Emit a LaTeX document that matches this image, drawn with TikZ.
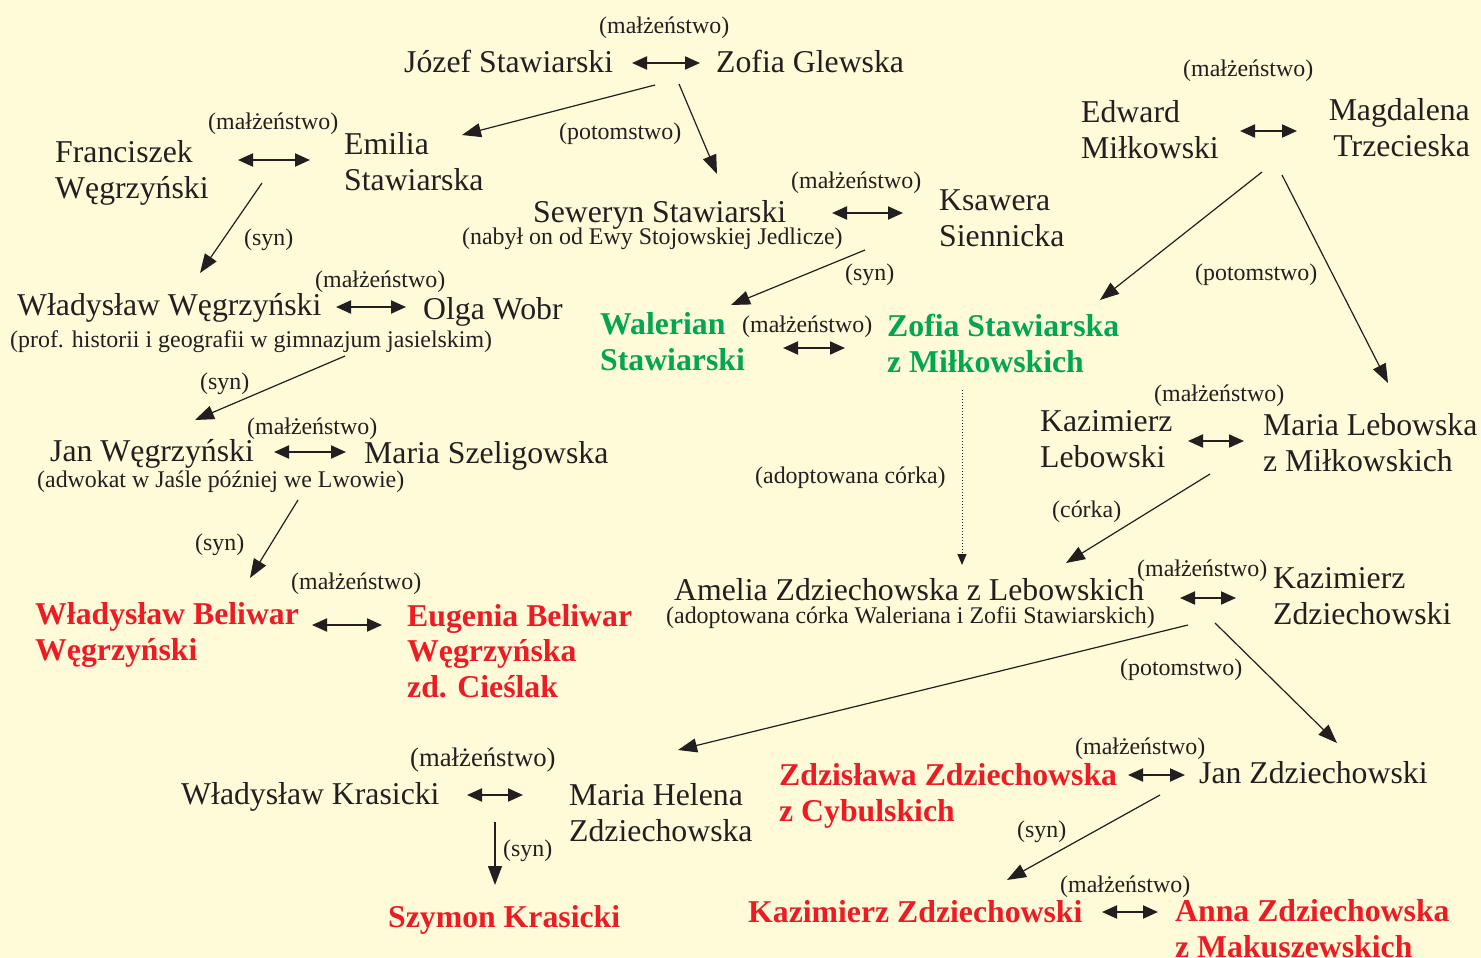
\documentclass[tikz,border=0pt]{standalone}
\usepackage{fontspec}
\setmainfont{Liberation Serif}
\usetikzlibrary{arrows.meta}
\definecolor{tlo}{HTML}{FFFAD7}
\definecolor{tekst}{HTML}{231F20}
\definecolor{czerwony}{HTML}{ED1C24}
\definecolor{zielony}{HTML}{00A651}

\begin{document}
\begin{tikzpicture}
  [x=1pt,y=-1pt,
   every node/.style={inner sep=0pt,anchor=base west,align=left,text=tekst,
     font=\fontsize{31.75}{35.5}\selectfont},
   opis/.style={font=\fontsize{23.9}{26}\selectfont},
   czerw/.style={text=czerwony,font=\fontsize{31.75}{35.5}\selectfont\bfseries},
   ziel/.style={text=zielony,font=\fontsize{31.75}{35.5}\selectfont\bfseries},
   slub/.style={{Triangle[length=15pt,width=13pt]}-{Triangle[length=15pt,width=13pt]},
     line width=2pt,draw=tekst},
   rod/.style={-{Triangle[length=19pt,width=14pt]},line width=1.2pt,draw=tekst},
   adop/.style={-{Triangle[length=11pt,width=9pt]},line width=1pt,dotted,draw=tekst}]
  \fill[tlo] (0,0) rectangle (1481,958);
  \useasboundingbox (0,0) rectangle (1481,958);
  % Stawiarscy (wieloliniowe: wsp. = linia bazowa ostatniego wiersza)
  \node[opis] (m1) at (599,34) {(małżeństwo)};
  \node (jozef) at (404,73) {Józef Stawiarski};
  \node (zofiag) at (716,73) {Zofia Glewska};
  \node[opis] (p1) at (559,139) {(potomstwo)};
  \node[opis] (m2) at (208,129) {(małżeństwo)};
  \node (franc) at (55,198) {Franciszek\\Węgrzyński};
  \node (emilia) at (344,190) {Emilia\\Stawiarska};
  \node[opis] (s1) at (244,245) {(syn)};
  \node[opis] (m3) at (315,287) {(małżeństwo)};
  \node (wladw) at (17,315) {Władysław Węgrzyński};
  \node (olga) at (423,319) {Olga Wobr};
  \node[opis] (prof) at (10,347) {(prof. historii i geografii w gimnazjum jasielskim)};
  \node[opis] (s2) at (200,389) {(syn)};
  \node[opis] (m4) at (247,434) {(małżeństwo)};
  \node (jan) at (50,461) {Jan Węgrzyński};
  \node (marias) at (364,463) {Maria Szeligowska};
  \node[opis] (adw) at (37,487) {(adwokat w Jaśle później we Lwowie)};
  \node[opis] (s3) at (195,550) {(syn)};
  \node[opis] (m5) at (291,589) {(małżeństwo)};
  \node[czerw] (wladb) at (35,660) {Władysław Beliwar\\Węgrzyński};
  \node[czerw] (eugenia) at (407,697) {Eugenia Beliwar\\Węgrzyńska\\zd. Cieślak};
  \node[opis] (m6) at (791,188) {(małżeństwo)};
  \node (seweryn) at (533,222) {Seweryn Stawiarski};
  \node[opis] (nabyl) at (462,244) {(nabył on od Ewy Stojowskiej Jedlicze)};
  \node (ksawera) at (939,246) {Ksawera\\Siennicka};
  \node[opis] (s4) at (845,280) {(syn)};
  \node[ziel] (walerian) at (600,370) {Walerian\\Stawiarski};
  \node[opis] (m7) at (742,332) {(małżeństwo)};
  \node[ziel] (zofias) at (887,372) {Zofia Stawiarska\\z Miłkowskich};
  % Miłkowscy
  \node[opis] (m8) at (1183,77) {(małżeństwo)};
  \node (edward) at (1081,158) {Edward\\Miłkowski};
  \node[align=right,anchor=base east] (magda) at (1470,156) {Magdalena\\Trzecieska};
  \node[opis] (p2) at (1195,280) {(potomstwo)};
  \node[opis] (m9) at (1154,401) {(małżeństwo)};
  \node (kazl) at (1040,467) {Kazimierz\\Lebowski};
  \node (marial) at (1263,471) {Maria Lebowska\\z Miłkowskich};
  \node[opis] (adopt) at (755,483) {(adoptowana córka)};
  \node[opis] (corka) at (1052,517) {(córka)};
  % Zdziechowscy
  \node (amelia) at (674,600) {Amelia Zdziechowska z Lebowskich};
  \node[opis] (adopt2) at (666,623) {(adoptowana córka Waleriana i Zofii Stawiarskich)};
  \node[opis] (m10) at (1137,576) {(małżeństwo)};
  \node (kazz) at (1273,624) {Kazimierz\\Zdziechowski};
  \node[opis] (p3) at (1120,675) {(potomstwo)};
  \node[opis,font=\fontsize{26.7}{28}\selectfont] (m11) at (410,766) {(małżeństwo)};
  \node (wladk) at (181,804) {Władysław Krasicki};
  \node (mariah) at (569,841) {Maria Helena\\Zdziechowska};
  \node[opis] (s5) at (503,856) {(syn)};
  \node[czerw] (szymon) at (388,927) {Szymon Krasicki};
  \node[opis] (m12) at (1075,754) {(małżeństwo)};
  \node[czerw] (zdzis) at (779,821) {Zdzisława Zdziechowska\\z Cybulskich};
  \node (janz) at (1199,783) {Jan Zdziechowski};
  \node[opis] (s6) at (1017,837) {(syn)};
  \node[opis] (m13) at (1060,892) {(małżeństwo)};
  \node[czerw] (kazzd) at (748,922) {Kazimierz Zdziechowski};
  \node[czerw] (anna) at (1175,957) {Anna Zdziechowska\\z Makuszewskich};
  % punkty strzalek
  \coordinate (js1) at (632,63);   \coordinate (js2) at (700,63);
  \coordinate (fw1) at (238,160);  \coordinate (fw2) at (310,160);
  \coordinate (ww1) at (336,307);  \coordinate (ww2) at (406,307);
  \coordinate (jw1) at (274,452);  \coordinate (jw2) at (346,452);
  \coordinate (bw1) at (312,625);  \coordinate (bw2) at (382,625);
  \coordinate (ss1) at (832,213);  \coordinate (ss2) at (903,213);
  \coordinate (wz1) at (783,348);  \coordinate (wz2) at (845,348);
  \coordinate (em1) at (1240,131); \coordinate (em2) at (1297,131);
  \coordinate (kl1) at (1188,441); \coordinate (kl2) at (1244,441);
  \coordinate (az1) at (1180,598); \coordinate (az2) at (1236,598);
  \coordinate (wk1) at (467,795);  \coordinate (wk2) at (523,795);
  \coordinate (zj1) at (1128,775); \coordinate (zj2) at (1185,775);
  \coordinate (ka1) at (1102,912); \coordinate (ka2) at (1158,912);
  \coordinate (d1a) at (655,85);   \coordinate (d1b) at (462,135);
  \coordinate (d2a) at (679,84);   \coordinate (d2b) at (717,174);
  \coordinate (d3a) at (262,183);  \coordinate (d3b) at (200,273);
  \coordinate (d4a) at (865,250);  \coordinate (d4b) at (731,305);
  \coordinate (d5a) at (345,356);  \coordinate (d5b) at (195,420);
  \coordinate (d6a) at (298,500);  \coordinate (d6b) at (250,578);
  \coordinate (d7a) at (1262,172); \coordinate (d7b) at (1100,300);
  \coordinate (d8a) at (1282,175); \coordinate (d8b) at (1388,383);
  \coordinate (d9a) at (1210,474); \coordinate (d9b) at (1066,563);
  \coordinate (d10a) at (1188,625); \coordinate (d10b) at (678,750);
  \coordinate (d11a) at (1215,623); \coordinate (d11b) at (1337,743);
  \coordinate (d12a) at (495,822);  \coordinate (d12b) at (495,885);
  \coordinate (d13a) at (1160,795); \coordinate (d13b) at (1007,880);
  \coordinate (ad1) at (962,390);   \coordinate (ad2) at (962,565);
  \foreach \from/\to in {js1/js2, fw1/fw2, ww1/ww2, jw1/jw2, bw1/bw2, ss1/ss2, wz1/wz2,
      em1/em2, kl1/kl2, az1/az2, wk1/wk2, zj1/zj2, ka1/ka2}
    \draw[slub] (\from) -- (\to);
  \foreach \from/\to in {d1a/d1b, d2a/d2b, d3a/d3b, d4a/d4b, d5a/d5b, d6a/d6b, d7a/d7b,
      d8a/d8b, d9a/d9b, d10a/d10b, d11a/d11b, d12a/d12b, d13a/d13b}
    \draw[rod] (\from) -- (\to);
  \draw[adop] (ad1) -- (ad2);
\end{tikzpicture}
\end{document}
